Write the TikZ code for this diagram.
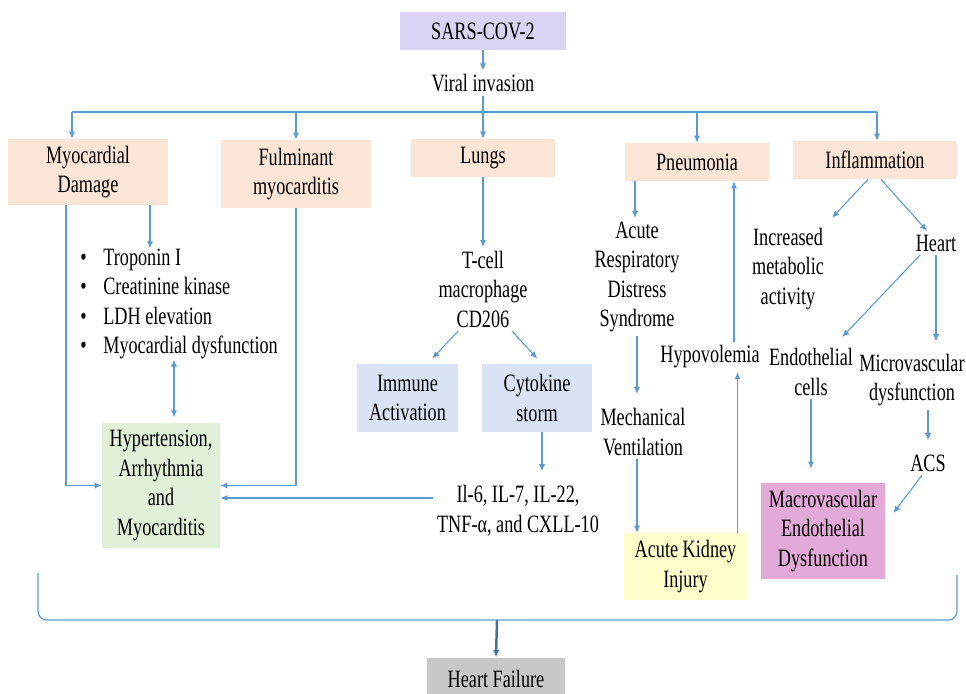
\documentclass[tikz,border=0pt]{standalone}
\usepackage{fontspec}
\setmainfont{Liberation Serif}[FakeStretch=0.73]
\usepackage{tikz}
\usetikzlibrary{arrows.meta, positioning, calc}
\definecolor{peach}{HTML}{FBE5D6}
\definecolor{lavender}{HTML}{DAD3F3}
\definecolor{palegreen}{HTML}{E2F0D9}
\definecolor{paleblue}{HTML}{DAE3F3}
\definecolor{paleyellow}{HTML}{FFFFCC}
\definecolor{palepink}{HTML}{E3A9D8}
\definecolor{palegray}{HTML}{C8C8C8}
\definecolor{arrowblue}{HTML}{5B9BD5}
\definecolor{darkblue}{HTML}{41719C}
\tikzset{
    block_purple/.style={rectangle, fill=lavender, align=center, inner sep=1pt, minimum height=0.76cm},
    block_peach/.style={rectangle, fill=peach, align=center, inner sep=1pt, minimum height=0.76cm},
    block_green/.style={rectangle, fill=palegreen, align=center, inner sep=1pt},
    block_blue/.style={rectangle, fill=paleblue, align=center, inner sep=1pt, minimum width=2.2cm, minimum height=1.36cm},
    block_yellow/.style={rectangle, fill=paleyellow, align=center, inner sep=1pt},
    block_pink/.style={rectangle, fill=palepink, align=center, inner sep=1pt},
    block_gray/.style={rectangle, fill=palegray, align=center, inner sep=1pt},
    txt/.style={align=center, inner sep=2pt},
    plain_line/.style={draw=arrowblue, line width=0.7pt},
    arrow/.style={-{Latex[length=4pt,width=3.5pt]}, draw=arrowblue, line width=0.6pt},
    arrow_both/.style={{Latex[length=4pt,width=3.5pt]}-{Latex[length=4pt,width=3.5pt]}, draw=arrowblue, line width=0.6pt},
    arrow_dark/.style={-{Latex[length=4pt,width=3.5pt]}, draw=darkblue, line width=1.4pt}
}
\begin{document}
\begin{tikzpicture}[x=0.02cm, y=-0.02cm, font=\fontsize{14.2pt}{16.8pt}\selectfont]
\useasboundingbox (0,0) rectangle (966,693);

% virus and first split
\node (sars) [block_purple, minimum width=3.32cm] at (483,31) {SARS-COV-2};
\node (viral) [txt] at (483,83) {Viral invasion};
\draw [arrow] (sars) -- (viral);

\node (myo) [block_peach, minimum width=3.22cm, minimum height=1.32cm] at (88,172) {Myocardial\\Damage};
\node (fulm) [block_peach, minimum width=3.0cm, minimum height=1.36cm] at (296,174) {Fulminant\\myocarditis};
\node (lungs) [block_peach, minimum width=2.9cm] at (483,158) {Lungs};
\node (pneu) [block_peach, minimum width=2.9cm] at (697,162) {Pneumonia};
\node (infl) [block_peach, minimum width=3.28cm] at (875,160) {Inflammation};

\coordinate (bus) at (483,112);
\coordinate (busL) at (72,112);
\coordinate (busR) at (877,112);
\draw [plain_line] (viral) -- (bus);
\draw [plain_line] (busL) -- (busR);
\draw [arrow] (busL) -- (busL |- myo.north);
\draw [arrow] (fulm.north |- bus) -- (fulm.north);
\draw [arrow] (bus) -- (lungs);
\draw [arrow] (pneu.north |- bus) -- (pneu.north);
\draw [arrow] (busR) -- (busR |- infl.north);

% heart damage column
\node (markers) [txt, align=left, anchor=west, inner sep=0pt] at (80,304) {\makebox[0.46cm][l]{\textbullet}Troponin I\\\makebox[0.46cm][l]{\textbullet}Creatinine kinase\\\makebox[0.46cm][l]{\textbullet}LDH elevation\\\makebox[0.46cm][l]{\textbullet}Myocardial dysfunction};
\node (hyp) [block_green, minimum width=2.36cm, minimum height=2.5cm] at (161,485.5) {Hypertension,\\Arrhythmia\\and\\Myocarditis};
\draw [arrow] ([xshift=1.24cm]myo.south) -- ([xshift=1.24cm]myo.south |- markers.north);
\draw [arrow] ([xshift=-0.44cm]myo.south) |- (hyp.west);
\draw [arrow] (fulm.south) |- (hyp.east);
\draw [arrow_both, shorten <=3pt] ([xshift=0.26cm]hyp.north) -- ([xshift=0.26cm]hyp.north |- markers.south);

% lungs column
\node (tcell) [txt] at (483,289) {T-cell\\macrophage\\CD206};
\node (immune) [block_blue, minimum width=2.02cm] at (407.5,398) {Immune\\Activation};
\node (cyto) [block_blue] at (537,398) {Cytokine\\storm};
\node (cytok) [txt] at (518,511) {Il-6, IL-7, IL-22,\\TNF-α, and CXLL-10};
\draw [arrow] (lungs) -- (tcell);
\draw [arrow, shorten >=4pt] ([xshift=-0.5cm]tcell.south) -- ([xshift=0.4cm]immune.north);
\draw [arrow, shorten >=4pt] ([xshift=0.58cm]tcell.south) -- ([xshift=0.1cm]cyto.north);
\draw [arrow, shorten >=6pt] ([xshift=0.1cm]cyto.south) -- ([xshift=0.1cm]cyto.south |- cytok.north);
\draw [arrow] ([yshift=0.26cm]cytok.west) -- ([yshift=0.26cm]cytok.west -| hyp.east);

% pneumonia column
\node (ards) [txt] at (637,277) {Acute\\Respiratory\\Distress\\Syndrome};
\node (mech) [txt] at (643,432) {Mechanical\\Ventilation};
\node (aki) [block_yellow, minimum width=2.46cm, minimum height=1.34cm] at (685.5,566.5) {Acute Kidney\\Injury};
\node (hypo) [txt] at (710,357) {Hypovolemia};
\draw [arrow] ([xshift=-1.24cm]pneu.south) -- ([xshift=-1.24cm]pneu.south |- ards.north);
\draw [arrow, shorten >=6pt] (ards.south) -- (ards.south |- mech.north);
\draw [arrow] (ards.south |- mech.south) -- (ards.south |- aki.north);
\draw [arrow] ([xshift=1.04cm]aki.north) -- ([xshift=1.04cm]aki.north |- hypo.south);
\draw [arrow] ([xshift=0.48cm]hypo.north) -- ([xshift=0.48cm]hypo.north |- pneu.south);

% inflammation column
\node (incr) [txt] at (788,269) {Increased\\metabolic\\activity};
\node (heart) [txt] at (936,243) {Heart};
\node (endo) [txt] at (811,372) {Endothelial\\cells};
\node (micro) [txt] at (912,380) {Microvascular\\dysfunction};
\node (acs) [txt] at (928,463) {ACS};
\node (macro) [block_pink, minimum width=2.48cm, minimum height=1.92cm] at (823,531) {Macrovascular\\Endothelial\\Dysfunction};
\draw [arrow, shorten >=5pt] ([xshift=-0.14cm]infl.south) -- ([xshift=0.76cm]incr.north);
\draw [arrow] ([xshift=0.12cm]infl.south) -- ([xshift=-0.18cm]heart.north);
\draw [arrow, shorten >=6pt] ([xshift=-0.32cm]heart.south) -- ([xshift=0.48cm]endo.north);
\draw [arrow, shorten >=5pt] (heart.south) -- (heart.south |- micro.north);
\draw [arrow, shorten >=8pt] (endo.south) -- (endo.south |- macro.north);
\draw [arrow, shorten >=6pt] (micro.south -| acs.north) -- (acs.north);
\draw [arrow] ([xshift=-0.12cm]acs.south) -- ([xshift=0.16cm,yshift=0.36cm]macro.east);

% bracket and outcome
\coordinate (brL) at (38,573);
\coordinate (brR) at (957,575);
\coordinate (brM) at (497,620);
\node (hf) [block_gray, minimum width=2.78cm, minimum height=0.86cm] at (496,679) {Heart Failure};
\draw [plain_line, rounded corners=5pt] (brL) |- (brM) -| (brR);
\draw [arrow_dark] (brM) -- (hf.north);
\end{tikzpicture}
\end{document}
